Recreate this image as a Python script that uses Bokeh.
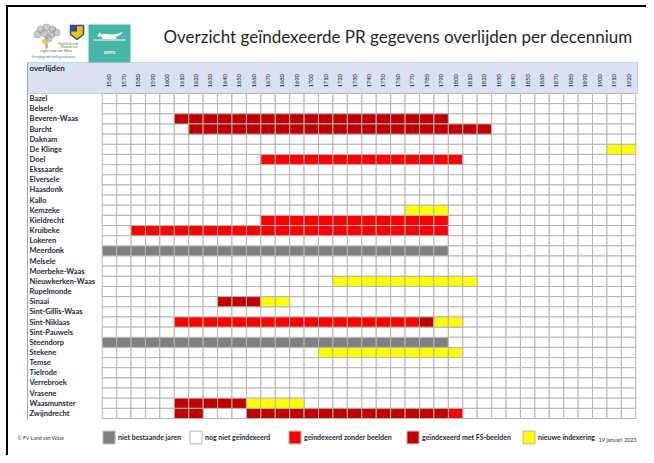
import math
from bokeh.plotting import figure
from bokeh.models import Range1d, ColumnDataSource, Legend, LegendItem
from bokeh.core.properties import value
from bokeh.embed import file_html
from bokeh.resources import INLINE

# ---------------- data ----------------
places = ["Bazel", "Belsele", "Beveren-Waas", "Burcht", "Daknam", "De Klinge", "Doel",
          "Ekssaarde", "Elversele", "Haasdonk", "Kallo", "Kemzeke", "Kieldrecht", "Kruibeke",
          "Lokeren", "Meerdonk", "Melsele", "Moerbeke-Waas", "Nieuwkerken-Waas", "Rupelmonde",
          "Sinaai", "Sint-Gillis-Waas", "Sint-Niklaas", "Sint-Pauwels", "Steendorp", "Stekene",
          "Temse", "Tielrode", "Verrebroek", "Vrasene", "Waasmunster", "Zwijndrecht"]

decades = [1560, 1570, 1580, 1590, 1600, 1610, 1620, 1630, 1640, 1650, 1660, 1670, 1680,
           1690, 1700, 1710, 1720, 1730, 1740, 1750, 1760, 1770, 1780, 1790, 1800, 1810,
           1820, 1830, 1840, 1850, 1860, 1870, 1880, 1890, 1900, 1910, 1920]

statuses = ["niet bestaande jaren", "nog niet geïndexeerd", "geïndexeerd zonder beelden",
            "geïndexeerd met FS-beelden", "nieuwe indexering"]
status_colors = ["#808080", "#FFFFFF", "#FF0000", "#C00000", "#FFFF00"]

# segments of indexed decades (first decade .. last decade, inclusive)
seg_place = ["Beveren-Waas", "Burcht", "De Klinge", "Doel", "Kemzeke", "Kieldrecht",
             "Kruibeke", "Meerdonk", "Nieuwkerken-Waas", "Sinaai", "Sinaai",
             "Sint-Niklaas", "Sint-Niklaas", "Sint-Niklaas", "Steendorp", "Stekene",
             "Waasmunster", "Waasmunster", "Zwijndrecht", "Zwijndrecht", "Zwijndrecht"]
seg_from = [1610, 1620, 1910, 1670, 1770, 1670, 1580, 1560, 1720, 1640, 1670,
            1610, 1780, 1790, 1560, 1710, 1610, 1660, 1610, 1660, 1800]
seg_to = [1790, 1820, 1920, 1800, 1790, 1790, 1790, 1790, 1810, 1660, 1680,
          1770, 1780, 1800, 1790, 1800, 1650, 1690, 1620, 1790, 1800]
seg_status = ["geïndexeerd met FS-beelden", "geïndexeerd met FS-beelden", "nieuwe indexering",
              "geïndexeerd zonder beelden", "nieuwe indexering", "geïndexeerd zonder beelden",
              "geïndexeerd zonder beelden", "niet bestaande jaren", "nieuwe indexering",
              "geïndexeerd met FS-beelden", "nieuwe indexering",
              "geïndexeerd zonder beelden", "geïndexeerd met FS-beelden", "nieuwe indexering",
              "niet bestaande jaren", "nieuwe indexering",
              "geïndexeerd met FS-beelden", "nieuwe indexering",
              "geïndexeerd met FS-beelden", "geïndexeerd met FS-beelden",
              "geïndexeerd zonder beelden"]

title_text = "Overzicht geïndexeerde PR gegevens overlijden per decennium"
header_text = "overlijden"
copyright_text = "© FV-Land van Waas"
date_text = "19 januari 2023"

# ---------------- layout helpers ----------------
W, H = 646, 455
OFF = 0
PX_PER_YEAR = 533.6 / 370.0
X0 = 1555 - (101.7 - OFF) / PX_PER_YEAR
ROW_H = 325.0 / 32
Y0 = -0.5 - (93 - OFF) / ROW_H


def X(px):
    return X0 + (px - OFF) / PX_PER_YEAR


def Y(py):
    return Y0 + (py - OFF) / ROW_H


p = figure(width=W, height=H, output_backend="svg", toolbar_location=None,
           x_range=Range1d(X(OFF), X(OFF + W)), y_range=Range1d(Y(OFF + H), Y(OFF)),
           x_axis_location=None, y_axis_location=None, min_border=0)
p.grid.visible = False
p.outline_line_color = None
p.background_fill_color = "white"
p.border_fill_color = "white"

FONT_NAME = "Lato"
FONT = value(FONT_NAME)

# frame lines
p.quad(left=[X(5.5)], right=[X(7.5)], top=[Y(4.5)], bottom=[Y(470)], fill_color="black", line_color=None)
p.quad(left=[X(5.5)], right=[X(660)], top=[Y(4.5)], bottom=[Y(6.5)], fill_color="black", line_color=None)

# header band
p.quad(left=[X(27)], right=[X(637)], top=[Y(62)], bottom=[Y(93)], fill_color="#D9E1F2",
       line_color="#C9D2E6")
p.segment(x0=[X(27)], x1=[X(27)], y0=[Y(62)], y1=[Y(419)], line_color="#A6A6A6", line_width=1)

# ---------------- cells ----------------
cell_status = {(pl, d): "nog niet geïndexeerd" for pl in places for d in decades}
for pl, a, b, st in zip(seg_place, seg_from, seg_to, seg_status):
    for d in decades:
        if a <= d <= b:
            cell_status[(pl, d)] = st

renderers = {}
for st, col in zip(statuses, status_colors):
    xs, ys = [], []
    for r, pl in enumerate(places):
        for d in decades:
            if cell_status[(pl, d)] == st:
                xs.append(d)
                ys.append(r)
    src = ColumnDataSource(dict(x=xs, y=ys))
    renderers[st] = p.rect(x="x", y="y", width=10, height=1, source=src, fill_color=col,
                           line_color="#B4B4B4", line_width=1)

# row labels
p.text(x=[X(29)] * len(places), y=list(range(len(places))), text=places,
       text_font=FONT, text_font_style="bold", text_font_size="7.5px",
       text_baseline="middle", text_align="left", text_color="#1F1F3A")

# decade labels
p.text(x=decades, y=[Y(87)] * len(decades), text=[str(d) for d in decades],
       angle=math.pi / 2, text_font=FONT, text_font_size="5.8px",
       text_baseline="middle", text_align="left", text_color="#222222")

# header text
p.text(x=[X(29)], y=[Y(67.5)], text=[header_text], text_font=FONT, text_font_style="bold",
       text_font_size="8px", text_baseline="middle", text_align="left", text_color="#1F1F3A")

# title
p.text(x=[X(163)], y=[Y(36)], text=[title_text], text_font=FONT, text_font_size="17px",
       text_baseline="middle", text_align="left", text_color="#262626")

# ---------------- logos (decoration) ----------------
p.quad(left=[X(88)], right=[X(130)], top=[Y(24)], bottom=[Y(62)], fill_color="#48B5A9",
       line_color=None)
p.patch(x=[X(97), X(99), X(101), X(103), X(113), X(118), X(123), X(119), X(116), X(116),
           X(102), X(101), X(97)],
        y=[Y(35), Y(32), Y(34), Y(33.5), Y(34), Y(33), Y(31), Y(35), Y(36), Y(38.5),
           Y(38.5), Y(36), Y(36)], fill_color="white", line_color=None)
p.segment(x0=[X(93)], x1=[X(125)], y0=[Y(39.5)], y1=[Y(39.5)], line_color="white", line_width=1)
p.text(x=[X(109)], y=[Y(51)], text=["zorro"], text_font=FONT, text_font_style="bold",
       text_font_size="5px", text_align="center", text_baseline="middle", text_color="white")

p.scatter(x=[X(40), X(46), X(52), X(37), X(44), X(51), X(56), X(48)],
          y=[Y(29), Y(27), Y(29), Y(34), Y(33), Y(34), Y(32), Y(38)],
          size=7, fill_color="#A8A8A8", line_color="#8C8C8C", fill_alpha=0.6, line_width=0.5)
p.segment(x0=[X(46)], x1=[X(46)], y0=[Y(36)], y1=[Y(48)], line_color="#9A9A9A", line_width=2)
p.scatter(x=[X(44)], y=[Y(41)], size=5, fill_color="#F0D040", line_color=None)
p.text(x=[X(58), X(60)], y=[Y(43), Y(46.5)], text=["Familiekunde", "Vlaanderen"],
       text_font=FONT, text_font_size="3.5px", text_baseline="middle", text_color="#4E7F3A")
p.text(x=[X(40)], y=[Y(50)], text=["regio Land van Waas"], text_font=FONT,
       text_font_size="3.5px", text_baseline="middle", text_color="#666666")
p.text(x=[X(31)], y=[Y(56)], text=["Vereniging voor familiegeschiedenis"], text_font=FONT,
       text_font_size="2.8px", text_baseline="middle", text_color="#666666")
p.patch(x=[X(70), X(83), X(83), X(76.5), X(70)], y=[Y(25), Y(25), Y(34), Y(39), Y(34)],
        fill_color="#F2C400", line_color="#2B4A9B", line_width=1.5)
p.quad(left=[X(70)], right=[X(76.5)], top=[Y(25)], bottom=[Y(31)], fill_color="#2B4A9B",
       line_color=None)

# ---------------- legend ----------------
legend_px = [101, 188, 287, 405, 521]
for st, lx in zip(statuses, legend_px):
    lg = Legend(items=[LegendItem(label=st, renderers=[renderers[st]])],
                location=(lx - OFF, (OFF + H) - 445), padding=0, margin=0, spacing=0,
                glyph_width=15, glyph_height=16, label_height=16, label_standoff=2,
                border_line_color=None, background_fill_alpha=0, label_text_font=FONT_NAME,
                label_text_font_style="bold", label_text_font_size="7px",
                label_text_color="#1F1F3A", label_text_baseline="middle")
    p.add_layout(lg)

p.text(x=[X(17)], y=[Y(437)], text=[copyright_text], text_font=FONT, text_font_size="5px",
       text_baseline="middle", text_color="#333333")
p.text(x=[X(598)], y=[Y(439)], text=[date_text], text_font=FONT, text_font_size="5.5px",
       text_baseline="middle", text_color="#333333")

open("out.html", "w").write(file_html(p, INLINE))
